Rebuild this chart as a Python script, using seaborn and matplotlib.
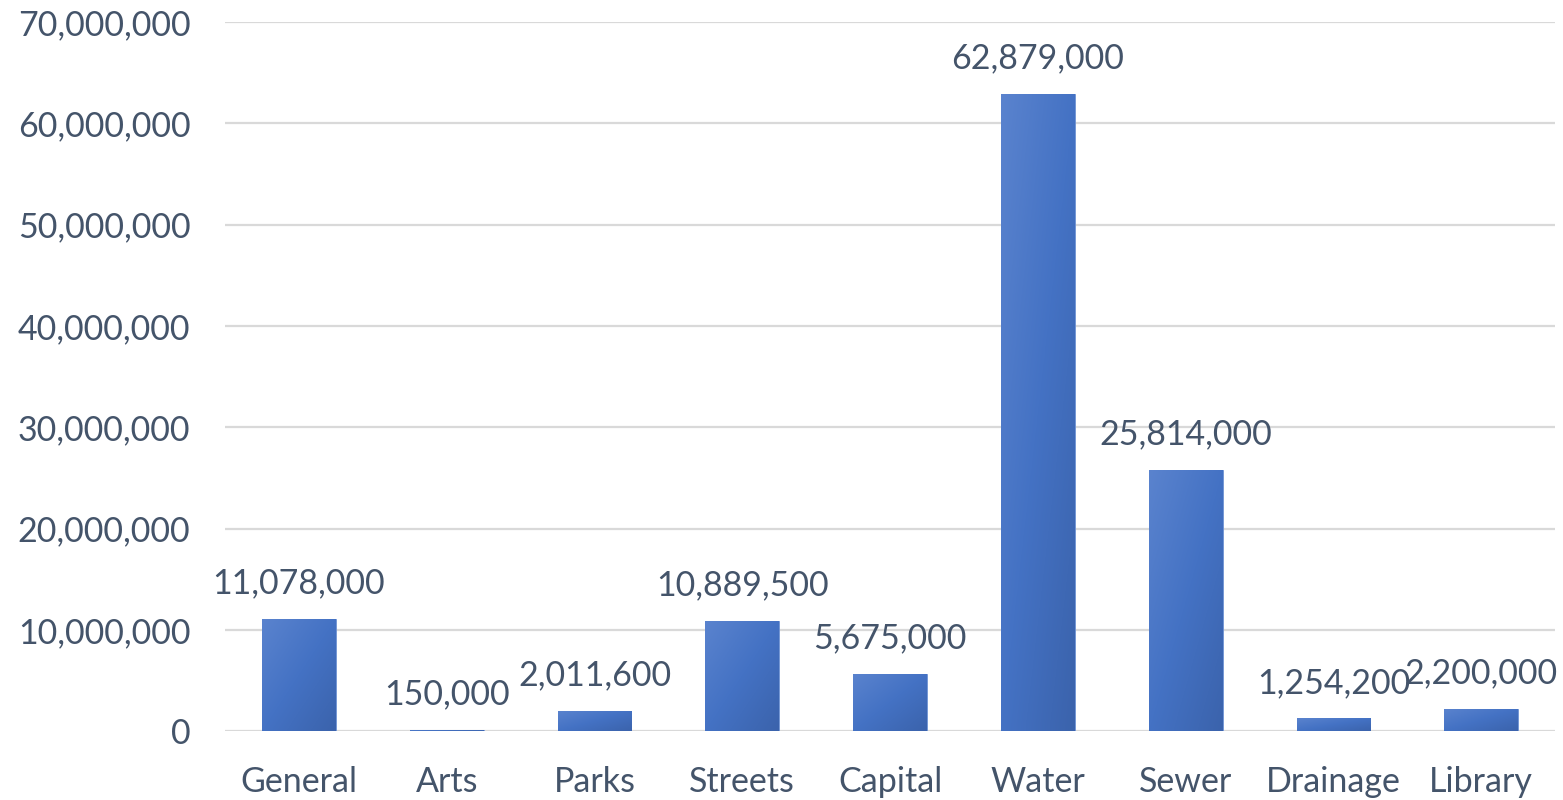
import numpy as np
import pandas as pd
import matplotlib
matplotlib.use("Agg")
import matplotlib.pyplot as plt
from matplotlib.colors import LinearSegmentedColormap
from matplotlib.ticker import FuncFormatter, MultipleLocator
import seaborn as sns

funds = ["General", "Arts", "Parks", "Streets", "Capital", "Water", "Sewer", "Drainage", "Library"]
amounts = [11078000, 150000, 2011600, 10889500, 5675000, 62879000, 25814000, 1254200, 2200000]

sns.set_theme(style="white")
plt.rcParams["font.family"] = ["Lato", "DejaVu Sans"]

text_color = "#44546A"
df = pd.DataFrame({"fund": funds, "amount": amounts})

fig = plt.figure(figsize=(15.63, 8), dpi=100)
ax = fig.add_axes([0.144, 0.086, 0.851, 0.8865])

sns.barplot(data=df, x="fund", y="amount", color="#4472C4", width=0.5,
            saturation=1, ax=ax, zorder=3)

ax.set_ylim(0, 70000000)
ax.yaxis.set_major_locator(MultipleLocator(10000000))
ax.yaxis.set_major_formatter(FuncFormatter(lambda v, p: f"{v:,.0f}"))
ax.grid(axis="y", color="#D9D9D9", linewidth=1.6, zorder=0)
ax.set_axisbelow(True)
for s in ax.spines.values():
    s.set_visible(False)
ax.set_xlabel("")
ax.set_ylabel("")
ax.tick_params(axis="both", length=0, labelsize=24.5, colors=text_color)
ax.tick_params(axis="y", pad=25)
ax.tick_params(axis="x", pad=25)

# diagonal shading on each bar: lighter top-left, darker bottom-right
cmap = LinearSegmentedColormap.from_list("shade", ["#5A83CE", "#4472C4", "#3B63AC"])
gx, gy = np.meshgrid(np.linspace(0, 1, 64), np.linspace(0, 1, 64))
grad = (gx + gy) / 2
for patch in list(ax.patches):
    x0, y0 = patch.get_x(), patch.get_y()
    w, h = patch.get_width(), patch.get_height()
    im = ax.imshow(grad, cmap=cmap, extent=[x0, x0 + w, y0, y0 + h],
                   origin="upper", aspect="auto", zorder=4, interpolation="bilinear")
    im.set_clip_path(patch)
    patch.set_edgecolor("#6F93D3")
    patch.set_linewidth(0.6)
ax.set_xlim(-0.5, len(funds) - 0.5)
ax.set_ylim(0, 70000000)

ax.bar_label(ax.containers[0], labels=[f"{v:,.0f}" for v in amounts],
             padding=14, fontsize=24.5, color=text_color)

fig.savefig("out.png", dpi=100)
